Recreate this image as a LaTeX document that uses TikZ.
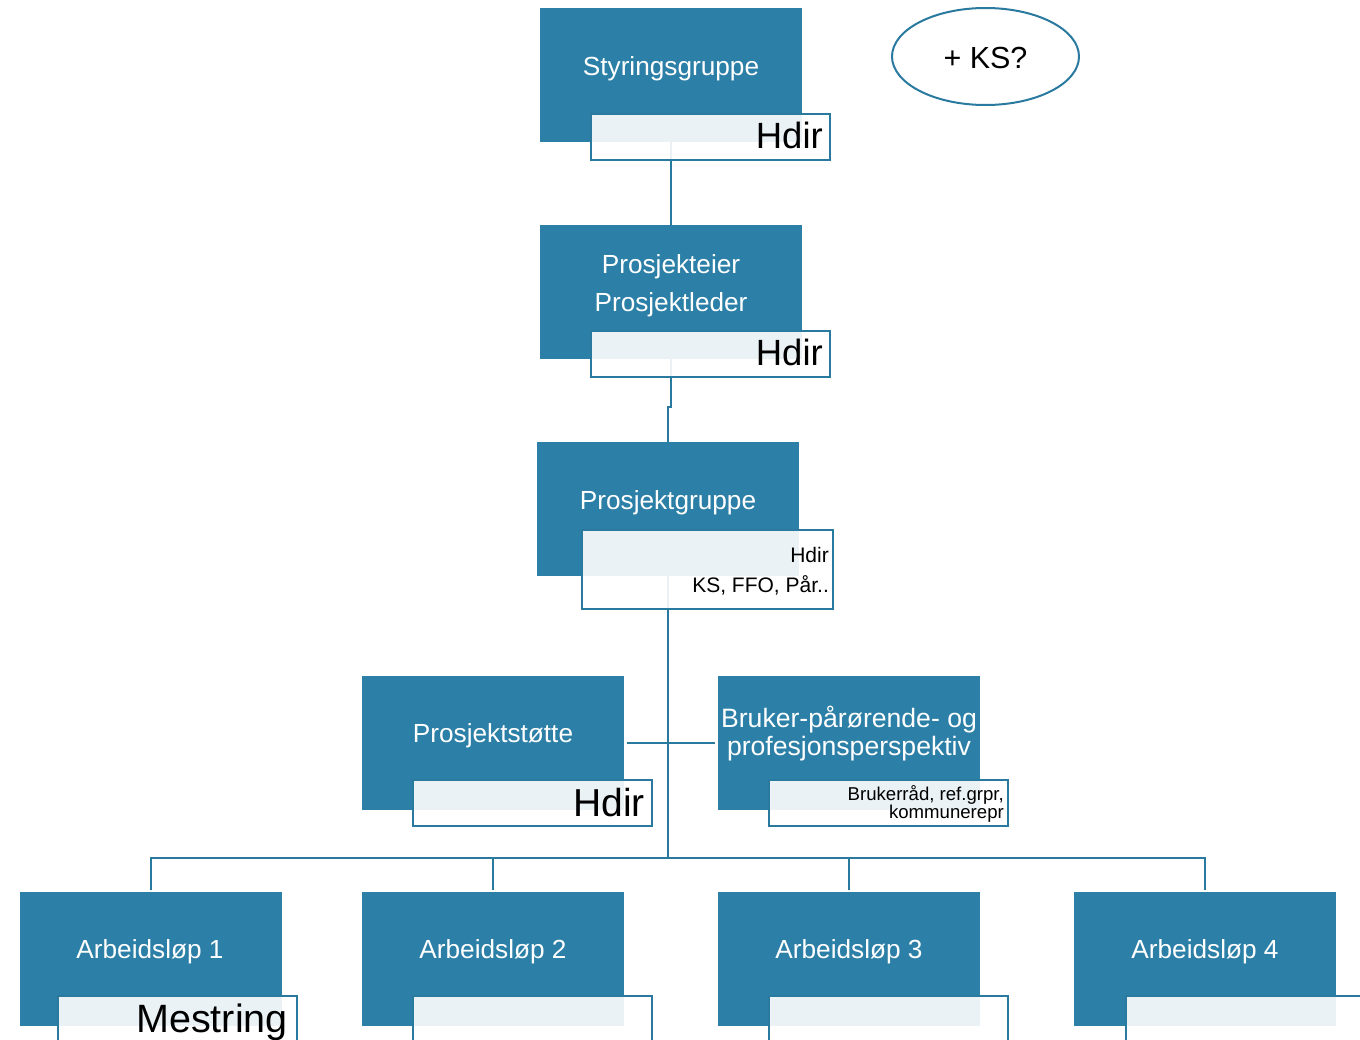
\documentclass[tikz,border=0pt]{standalone}
\usepackage{fontspec}
\setmainfont{Liberation Sans}
\usetikzlibrary{shapes.geometric}
\definecolor{boxblue}{RGB}{44,127,166}
\definecolor{linecol}{RGB}{42,122,160}
\begin{document}
\begin{tikzpicture}[x=1pt,y=-1pt,
  blk/.style={fill=boxblue, draw=none, minimum width=262pt, minimum height=134pt, inner sep=0pt, outer sep=0pt, anchor=north west},
  lbl/.style={fill=white, fill opacity=0.9, draw=linecol, draw opacity=1, line width=2.5pt, minimum width=239pt, minimum height=46pt, inner sep=0pt, outer sep=0pt, anchor=north west},
  conn/.style={draw=linecol, line width=2.8pt},
  wt/.style={text=white, anchor=base, inner sep=0pt, font=\fontsize{26.2}{28}\selectfont},
  bt/.style={text=black, anchor=base east, inner sep=0pt}
]
\useasboundingbox (0,0) rectangle (1360,1039);
\clip (0,0) rectangle (1360,1039);

% blue boxes
\node[blk] (s)  at (540,8) {};
\node[blk] (pe) at (540,225) {};
\node[blk] (pg) at (537,442) {};
\node[blk] (ps) at (362,676) {};
\node[blk] (bp) at (718,676) {};
\node[blk] (a1) at (20,892) {};
\node[blk] (a2) at (362,892) {};
\node[blk] (a3) at (718,892) {};
\node[blk] (a4) at (1074,892) {};

% ellipse
\node[draw=linecol, line width=2pt, ellipse, minimum width=187pt, minimum height=97pt, inner sep=0pt] (ks) at (985.5,56.5) {};
\node[anchor=base, inner sep=0pt, font=\fontsize{30.5}{32}\selectfont] (kst) at (985.5,68) {+ KS?};

% connectors
\coordinate (bus) at (668,858);
\draw[conn] (s.south) -- (pe.north);
\draw[conn] (pe.south) -- ++(0,48) -| (pg.north);
\draw[conn] (pg.south) -- (bus);
\draw[conn] ([xshift=3pt]ps.east) -- ([xshift=-3pt]bp.west);
\draw[conn] (bus) -| ([yshift=2pt]a1.north);
\draw[conn] (bus) -| ([yshift=2pt]a2.north);
\draw[conn] (bus) -| ([yshift=2pt]a3.north);
\draw[conn] (bus) -| ([yshift=2pt]a4.north);

% label boxes
\node[lbl] (ls)  at (591,114) {};
\node[lbl] (lpe) at (591,331) {};
\node[lbl, minimum width=251pt, minimum height=79pt] (lpg) at (582,530) {};
\node[lbl] (lps) at (413,780) {};
\node[lbl] (lbp) at (769,780) {};
\node[lbl] (la1) at (58,996) {};
\node[lbl] (la2) at (413,996) {};
\node[lbl] (la3) at (769,996) {};
\node[lbl] (la4) at (1126,996) {};

% white texts
\node[wt] (ts)   at (671,75) {Styringsgruppe};
\node[wt] (tpe1) at (671,273) {Prosjekteier};
\node[wt] (tpe2) at (671,311) {Prosjektleder};
\node[wt] (tpg)  at (668,509) {Prosjektgruppe};
\node[wt] (tps)  at (493,742) {Prosjektstøtte};
\node[wt, font=\fontsize{26.6}{28}\selectfont] (tbp1) at (849,727) {Bruker-pårørende- og};
\node[wt, font=\fontsize{26.6}{28}\selectfont] (tbp2) at (849,755) {profesjonsperspektiv};
\node[wt] (ta1)  at (150,958) {Arbeidsløp 1};
\node[wt] (ta2)  at (493,958) {Arbeidsløp 2};
\node[wt] (ta3)  at (849,958) {Arbeidsløp 3};
\node[wt] (ta4)  at (1205,958) {Arbeidsløp 4};

% black texts
\node[bt, font=\fontsize{36.5}{38}\selectfont] (hs)  at (823,148) {Hdir};
\node[bt, font=\fontsize{36.5}{38}\selectfont] (hpe) at (823,365) {Hdir};
\node[bt, font=\fontsize{21}{22}\selectfont] (hpg) at (829,562) {Hdir};
\node[bt, font=\fontsize{21}{22}\selectfont] (kpg) at (829,592) {KS, FFO, Pår..};
\node[bt, font=\fontsize{39}{41}\selectfont] (hps) at (645,816) {Hdir};
\node[bt, font=\fontsize{18.6}{20}\selectfont] (bbp1) at (1004,800) {Brukerråd, ref.grpr,};
\node[bt, font=\fontsize{18.6}{20}\selectfont] (bbp2) at (1004,818) {kommunerepr};
\node[bt, font=\fontsize{39.5}{41}\selectfont] (ma1) at (288,1032) {Mestring};
\end{tikzpicture}
\end{document}
